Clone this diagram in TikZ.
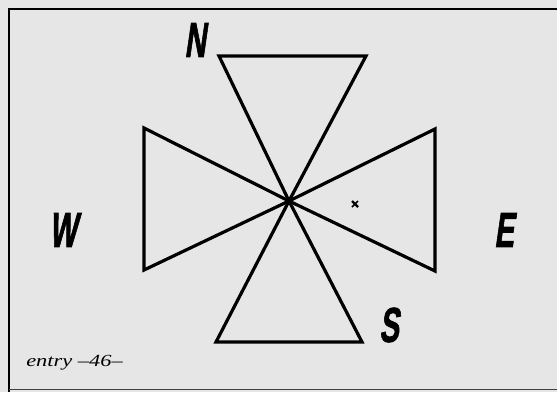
\documentclass[tikz,border=0pt]{standalone}
\usepackage{fontspec}
\setmainfont{Liberation Serif}
\newfontfamily\dirfont{Liberation Sans}[FakeSlant=0.24, FakeBold=1.8]
\definecolor{paper}{HTML}{E6E6E6}
\begin{document}
\begin{tikzpicture}[x=1pt,y=-1pt,
  wing/.style={line width=3.2pt, line join=miter, draw=black},
  frameline/.style={line width=2pt, draw=black},
  dirlabel/.style={font=\dirfont\bfseries\fontsize{49}{49}\selectfont, xscale=0.6, inner sep=0pt, anchor=center},
  caption/.style={font=\itshape\fontsize{17}{17}\selectfont, xscale=1.32, inner sep=0pt, anchor=west}]
\useasboundingbox (0,0) rectangle (557,392);
\fill[paper] (0,0) rectangle (557,392);
\draw[frameline] (557,9) -- (9,9) -- (9,392);
\draw[line width=1.6pt, draw=black!75] (9,389.5) -- (557,389.5);
\coordinate (c) at (289,201);
% triangles
\draw[wing] (c) -- (219,56) -- (366,56) -- cycle;
\draw[wing] (c) -- (216,342) -- (362,342) -- cycle;
\draw[wing] (c) -- (144,128) -- (144,270) -- cycle;
\draw[wing] (c) -- (435,129) -- (435,271) -- cycle;
\fill (c) circle (4pt);
% small mark
\coordinate (m) at (355,204);
\draw[line width=2.2pt] ([shift={(-3,-3)}]m) -- ([shift={(3,3)}]m);
\draw[line width=1.6pt] ([shift={(-3,3)}]m) -- ([shift={(3,-3)}]m);
% labels
\node[dirlabel] (N) at (195,40) {N};
\node[dirlabel] (W) at (63,230) {W};
\node[dirlabel] (E) at (504,230) {E};
\node[dirlabel] (S) at (389,325) {S};
\node[caption] (cap) at (26,363) {entry –46–};
\end{tikzpicture}
\end{document}
